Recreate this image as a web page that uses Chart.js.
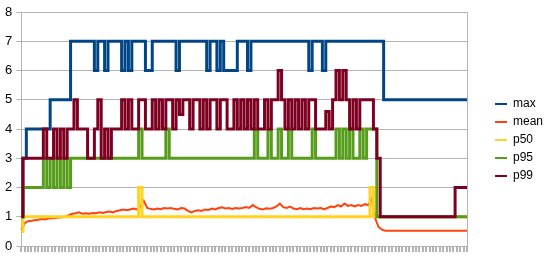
<!DOCTYPE html>
<html>
<head>
<meta charset="utf-8">
<script src="https://cdn.jsdelivr.net/npm/chart.js@4/dist/chart.umd.min.js"></script>
<style>
body{margin:0;background:#fff;}
</style>
</head>
<body>
<div id="wrapper"></div>
<script>
// values, one per sample
const max = [1,3,
  4,4,4,4,4,4,4, 5,5,5,5,5,5,
  7,7,7,7,7,7,7, 6, 7,7, 6, 7,7,7,7, 6,7,6, 7,7,7,7, 6,6,
  7,7,7,7,7,7,7, 6, 7,7,7,7,7,7,7,7, 6, 7,7, 6,7,6,6,6,6, 7,7,7, 6,
  7,7,7,7,7,7,7,7,7,7,7,7,7,7,7,7,7, 6, 7,7,7, 6,
  7,7,7,7,7,7,7,7,7,7,7,7,7,7,7,7,7,
  5,5,5,5,5,5,5,5,5,5,5,5,5,5,5,5,5,5,5,5,5,5,5,5,5];

const mean = [0.55,0.78,0.85,0.86,0.88,0.9,0.92,0.91,0.94,0.95,
  0.96,0.97,0.98,1.0,1.05,1.1,1.12,1.15,1.1,1.12,
  1.1,1.13,1.12,1.15,1.13,1.16,1.18,1.15,1.2,1.22,
  1.25,1.22,1.25,1.28,1.25,1.35,1.55,1.3,1.27,1.25,
  1.28,1.26,1.3,1.28,1.3,1.27,1.25,1.3,1.28,1.2,
  1.15,1.2,1.22,1.2,1.25,1.23,1.28,1.25,1.3,1.32,
  1.28,1.3,1.27,1.3,1.28,1.3,1.33,1.3,1.4,1.33,
  1.27,1.25,1.29,1.27,1.3,1.35,1.45,1.33,1.3,1.35,
  1.28,1.26,1.3,1.26,1.28,1.26,1.3,1.28,1.3,1.26,
  1.3,1.35,1.33,1.4,1.35,1.45,1.37,1.4,1.35,1.4,
  1.37,1.43,1.4,1.6,0.95,0.65,0.56,
  0.52,0.52,0.52,0.52,0.52,0.52,0.52,0.52,0.52,0.52,0.52,0.52,0.52,
  0.52,0.52,0.52,0.52,0.52,0.52,0.52,0.52,0.52,0.52,0.52,0.52];

const p50 = [0.5,
  1,1,1,1,1,1,1,1,1,1,1,1,1,1,1,1,1,1,1,1,1,1,1,1,1,1,1,1,1,1,1,1,1,1,
  2,
  1,1,1,1,1,1,1,1,1,1,1,1,1,1,1,1,1,1,1,1,1,1,1,1,1,1,1,1,1,1,1,1,1,1,
  1,1,1,1,1,1,1,1,1,1,1,1,1,1,1,1,1,1,1,1,1,1,1,1,1,1,1,1,1,1,1,1,1,
  2,
  1,1,1,1,1,1,1,1,1,1,1,1,1,1,1,1,1,1,1,1,1,1,1,1,1,1,1,1];

const p95 = [1,2,
  2,2,2,2,2, 3,2,3,2,3,2,3,2,
  3,3,3,3,3,3,3,3,3,3,3,3,3,3,3,3,3,3,3,3, 4,
  3,3,3,3,3,3,3, 4,
  3,3,3,3,3,3,3,3,3,3,3,3,3,3,3,3,3,3,3,3,3,3,3,3,3, 4,
  3,3,3, 4, 3,3, 4, 3,3, 4, 3,3,3,3,3,3, 4, 3,3,3,3,3,3,
  4,3,4,3,4,3,3,4,3,4,4,4,
  1,1,1,1,1,1,1,1,1,1,1,1,1,1,1,1,1,1,1,1,1,1,1,1,1,1,1];

const p99 = [1,3,
  3,3,3,3,3, 4,3,3,4,3,4,3,4,4,5,4,4,4,3,3,4,5,3,4,3,4,4,4,
  5,4,5,4,4,5,5,4,4,5,4,5,4,5,5,4,5,4.5,5,5,
  4,5,5,4,5,4,5,5,4,5,5,4,4,5,4,5,4,5,4,5,
  4,4,5,4,5,5,6,5,4,5,4,5,4,5,4,5,5,4,4,4,
  4.6,4,5,6,5,6,5,4,5,4,5,5,5,5,4,3,1,
  1,1,1,1,1,1,1,1,1,1,1,1,1,1,1,1,1,1,1,1,1,
  2,2,2,2];

const seriesNames = ["max", "mean", "p50", "p95", "p99"];
const seriesColors = ["#004586", "#ff420e", "#ffd320", "#579d1c", "#7e0021"];
const samples = max.map((v, i) => String(i + 1)); // no labels shown on the x axis

function addLine(label, data, color, width, order, stepped){
    return {
        label: label,
        data: data,
        borderColor: color,
        backgroundColor: color,
        borderWidth: width,
        pointRadius: 0,
        tension: 0,
        stepped: stepped,
        order: order //last series on top
    }
}

// the legend sits a bit lower than chart.js centers it
const legendShift = {
    id: "legendShift",
    afterLayout(chart){
        chart.legend.top += 8;
        chart.legend.bottom += 8;
    }
};

Chart.defaults.font.family = "'Liberation Sans', Arial, sans-serif";
Chart.defaults.color = "#000";

const canvas = document.createElement("canvas");
canvas.width = 544;
canvas.height = 256;
document.getElementById("wrapper").appendChild(canvas);

const grey = "#b3b3b3";
new Chart(canvas.getContext("2d"), {
    type: "line",
    data: {
        labels: samples,
        datasets: [
            addLine(seriesNames[0], max, seriesColors[0], 3, 5, "middle"),
            addLine(seriesNames[1], mean, seriesColors[1], 2, 4, false),
            addLine(seriesNames[2], p50, seriesColors[2], 3, 3, "middle"),
            addLine(seriesNames[3], p95, seriesColors[3], 3, 2, "middle"),
            addLine(seriesNames[4], p99, seriesColors[4], 3, 1, "middle")
        ]
    },
    options: {
        responsive: false,
        animation: false,
        layout: {padding: {left: 1, top: 12, right: 0, bottom: 4}},
        scales: {
            x: {
                offset: false,
                grid: {drawOnChartArea: false, color: grey, tickLength: 6, lineWidth: 2},
                border: {color: grey},
                ticks: {display: false}
            },
            y: {
                min: 0, max: 8,
                ticks: {stepSize: 1, padding: 4, font: {size: 13, lineHeight: 0.9}, color: "#000"},
                grid: {color: grey, tickLength: 5},
                border: {color: grey}
            },
            yr: {
                position: "right",
                grid: {display: false},
                border: {color: grey},
                ticks: {display: false},
                afterFit: s => { s.width = 22; }
            }
        },
        plugins: {
            tooltip: {enabled: false},
            legend: {
                position: "right",
                maxWidth: 55,
                labels: {
                    boxWidth: 12,
                    boxHeight: 2,
                    padding: 6,
                    color: "#000",
                    font: {size: 12},
                    sort: (a, b) => a.datasetIndex - b.datasetIndex,
                    generateLabels: chart => Chart.defaults.plugins.legend.labels.generateLabels(chart)
                        .map(l => Object.assign(l, {lineWidth: 0}))
                }
            }
        }
    },
    plugins: [legendShift]
});
</script>
</body>
</html>
